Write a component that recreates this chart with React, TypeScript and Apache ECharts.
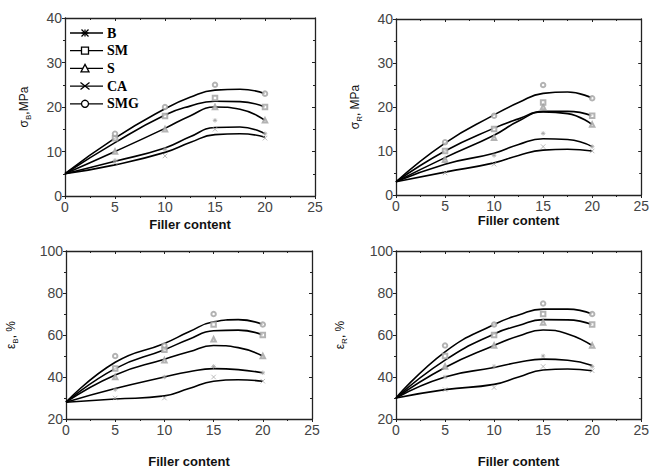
import React, { useEffect, useRef } from "react";
import * as echarts from "echarts";

// ---- data ----
const seriesNames = ["B", "SM", "S", "CA", "SMG"];
const pointX = [0, 5, 10, 15, 20];
const curveX = [0, 5, 10, 12.5, 15, 17.5, 20];

// panel 1: sigma_B (MPa)
const p1Points: Record<string, number[]> = {
  SMG: [5, 14, 20, 25, 23],
  SM: [5, 13, 18, 22, 20],
  S: [5, 10, 15, 20, 17],
  B: [5, 8, 10.5, 17, 14],
  CA: [5, 7.5, 9, 15, 13],
};
const p1Curves: Record<string, number[]> = {
  SMG: [5, 13, 19.6, 22.2, 23.8, 24, 23],
  SM: [5, 12, 18.2, 20.2, 21.3, 21.2, 20],
  S: [5, 10, 15.2, 18, 20, 19.5, 17],
  B: [5, 7.8, 10.8, 13.3, 15.4, 15.5, 14],
  CA: [5, 7, 9.8, 12, 13.8, 14, 13.2],
};
// panel 2: sigma_R (MPa)
const p2Points: Record<string, number[]> = {
  SMG: [3, 12, 18, 25, 22],
  SM: [3, 10, 15, 21, 18],
  S: [3, 8, 13, 20, 16],
  B: [3, 8, 9, 14, 11],
  CA: [3, 5, 7, 11, 10],
};
const p2Curves: Record<string, number[]> = {
  SMG: [3, 11.8, 18.2, 21, 23.1, 23.4, 22],
  SM: [3, 10, 15.2, 17.3, 19, 19, 18],
  S: [3, 8.5, 13.6, 16.8, 18.9, 18.5, 16],
  B: [3, 7, 9.5, 11.5, 12.8, 12.6, 11],
  CA: [3, 5.2, 7.3, 9, 10.2, 10.4, 10],
};
// panel 3: epsilon_B (%)
const p3Points: Record<string, number[]> = {
  SMG: [28, 50, 55, 70, 65],
  SM: [28, 44, 53, 65, 60],
  S: [28, 40, 48, 58, 50],
  B: [28, 34, 40, 45, 42],
  CA: [28, 30, 30, 40, 38],
};
const p3Curves: Record<string, number[]> = {
  SMG: [28, 47, 56, 61.5, 66.3, 67.3, 65],
  SM: [28, 44, 53, 58, 62, 62.3, 60],
  S: [28, 41, 48.5, 52, 55, 54, 50],
  B: [28, 34.5, 40, 42.5, 44, 43.5, 42],
  CA: [28, 29.5, 31, 34.5, 38, 38.7, 38],
};
// panel 4: epsilon_R (%)
const p4Points: Record<string, number[]> = {
  SMG: [30, 55, 65, 75, 70],
  SM: [30, 50, 60, 70, 65],
  S: [30, 45, 55, 66, 55],
  B: [30, 40, 45, 50, 45],
  CA: [30, 34, 35, 45, 43],
};
const p4Curves: Record<string, number[]> = {
  SMG: [30, 52, 65, 69.5, 72.3, 72.3, 70],
  SM: [30, 48, 60.5, 64.5, 67.3, 67.2, 65],
  S: [30, 44.5, 55, 59.5, 62.4, 60.5, 55],
  B: [30, 40, 44.5, 47, 48.5, 48, 45.5],
  CA: [30, 34, 36.5, 40, 43.3, 43.8, 43],
};

const xTitle = "Filler content";
const yTitles = [
  "{a|σ}{s|B}{a|,MPa}",
  "{a|σ}{s|R}{a|, MPa}",
  "{a|ε}{s|B}{a|, %}",
  "{a|ε}{s|R}{a|, %}",
];
const yRanges = [
  { min: 0, max: 40, interval: 10 },
  { min: 0, max: 40, interval: 10 },
  { min: 20, max: 100, interval: 20 },
  { min: 20, max: 100, interval: 20 },
];
const xRange = { min: 0, max: 25, interval: 5 };

const panelPoints = [p1Points, p2Points, p3Points, p4Points];
const panelCurves = [p1Curves, p2Curves, p3Curves, p4Curves];

// ---- layout ----
const grids = [
  { left: 65, top: 18, width: 250, height: 178 },
  { left: 396, top: 19, width: 246, height: 176 },
  { left: 66, top: 251, width: 246, height: 175 },
  { left: 396, top: 251, width: 246, height: 176 },
];
const xNameGaps = [22, 18, 36, 36];
const yNameGaps = [33, 33, 47, 48];

const ASTERISK = "path://M5,0L5,10M0,5L10,5M1.5,1.5L8.5,8.5M8.5,1.5L1.5,8.5";
const CROSS = "path://M0,0L10,10M10,0L0,10";
const symbols: Record<string, string> = {
  B: ASTERISK,
  SM: "emptyRect",
  S: "emptyTriangle",
  CA: CROSS,
  SMG: "emptyCircle",
};

const AXIS_COLOR = "#222";
const MARK_COLOR = "#a0a0a0";
const LABEL_FONT = "Liberation Sans, Arial, sans-serif";

function buildOption() {
  const xAxis: any[] = [];
  const yAxis: any[] = [];
  const series: any[] = [];
  grids.forEach((g, i) => {
    const base = {
      gridIndex: i,
      type: "value",
      axisLine: { show: true, onZero: false, lineStyle: { color: AXIS_COLOR, width: 1.3 } },
      splitLine: { show: false },
      minorSplitLine: { show: false },
    };
    const outerTicks = {
      axisTick: { show: true, inside: false, length: 3, lineStyle: { color: AXIS_COLOR } },
      minorTick: { show: true, splitNumber: 2, length: 2, lineStyle: { color: AXIS_COLOR } },
    };
    const innerTicks = {
      axisTick: { show: true, inside: true, length: 3, lineStyle: { color: AXIS_COLOR } },
      minorTick: { show: true, splitNumber: 2, length: 2, lineStyle: { color: AXIS_COLOR } },
    };
    xAxis.push({
      ...base,
      ...outerTicks,
      ...xRange,
      position: "bottom",
      axisLabel: { fontSize: 14, color: "#444", margin: 4, fontFamily: LABEL_FONT },
      name: xTitle,
      nameLocation: "middle",
      nameGap: xNameGaps[i],
      nameTextStyle: { fontSize: 13, fontWeight: "bold", color: "#111", fontFamily: LABEL_FONT },
    });
    xAxis.push({ ...base, ...innerTicks, ...xRange, position: "top", axisLabel: { show: false } });
    yAxis.push({
      ...base,
      ...outerTicks,
      ...yRanges[i],
      position: "left",
      axisLabel: { fontSize: 14, color: "#444", margin: 3, fontFamily: LABEL_FONT },
      name: yTitles[i],
      nameLocation: "middle",
      nameGap: yNameGaps[i],
      nameRotate: 90,
      nameTextStyle: {
        color: "#111",
        fontFamily: LABEL_FONT,
        rich: {
          a: { fontSize: 12, color: "#111", fontFamily: LABEL_FONT, lineHeight: 16, verticalAlign: "middle" },
          s: { fontSize: 8, color: "#111", fontFamily: LABEL_FONT, lineHeight: 8, verticalAlign: "bottom" },
        },
      },
    });
    yAxis.push({ ...base, ...innerTicks, ...yRanges[i], position: "right", axisLabel: { show: false } });

    seriesNames.forEach((name) => {
      const pts = panelPoints[i][name];
      const cur = panelCurves[i][name];
      series.push({
        type: "line",
        name,
        xAxisIndex: 2 * i,
        yAxisIndex: 2 * i,
        data: curveX.map((x, k) => [x, cur[k]]),
        smooth: 0.5,
        showSymbol: false,
        symbol: "none",
        lineStyle: { color: "#000", width: 1.6 },
        z: 2,
        silent: true,
      });
      const isPath = symbols[name].startsWith("path://");
      series.push({
        type: "scatter",
        name: name + "_pts",
        xAxisIndex: 2 * i,
        yAxisIndex: 2 * i,
        data: pointX.slice(1).map((x, k) => [x, pts[k + 1]]),
        symbol: symbols[name],
        symbolSize: 4.5,
        itemStyle: isPath
          ? { color: "rgba(0,0,0,0)", borderColor: MARK_COLOR, borderWidth: 0.9 }
          : { color: MARK_COLOR, borderColor: MARK_COLOR, borderWidth: 0.9 },
        z: 3,
        silent: true,
      });
    });
  });

  // legend drawn with graphic elements
  const legendTop = 33;
  const step = 17.7;
  const lx0 = 70;
  const lx1 = 103;
  const mx = 85;
  const ms = 3.5;
  const graphic: any[] = [];
  const stroke = { stroke: "#000", lineWidth: 1.3 };
  seriesNames.forEach((name, k) => {
    const y = legendTop + k * step;
    graphic.push({ type: "line", shape: { x1: lx0, y1: y, x2: lx1, y2: y }, style: { ...stroke } });
    if (name === "B") {
      graphic.push({ type: "line", shape: { x1: mx - ms, y1: y, x2: mx + ms, y2: y }, style: stroke });
      graphic.push({ type: "line", shape: { x1: mx, y1: y - ms, x2: mx, y2: y + ms }, style: stroke });
      graphic.push({ type: "line", shape: { x1: mx - ms, y1: y - ms, x2: mx + ms, y2: y + ms }, style: stroke });
      graphic.push({ type: "line", shape: { x1: mx + ms, y1: y - ms, x2: mx - ms, y2: y + ms }, style: stroke });
    } else if (name === "SM") {
      graphic.push({ type: "rect", shape: { x: mx - ms, y: y - ms, width: 2 * ms, height: 2 * ms }, style: { fill: "#fff", ...stroke } });
    } else if (name === "S") {
      graphic.push({
        type: "polygon",
        shape: { points: [[mx, y - ms - 0.5], [mx + ms + 0.5, y + ms], [mx - ms - 0.5, y + ms]] },
        style: { fill: "#fff", ...stroke },
      });
    } else if (name === "CA") {
      graphic.push({ type: "line", shape: { x1: mx - ms - 1, y1: y - ms, x2: mx + ms + 1, y2: y + ms }, style: stroke });
      graphic.push({ type: "line", shape: { x1: mx + ms + 1, y1: y - ms, x2: mx - ms - 1, y2: y + ms }, style: stroke });
    } else {
      graphic.push({ type: "circle", shape: { cx: mx, cy: y, r: ms }, style: { fill: "#fff", ...stroke } });
    }
    graphic.push({
      type: "text",
      x: 107,
      y,
      style: {
        text: name,
        fill: "#000",
        font: "bold 14px 'Liberation Serif', 'Times New Roman', serif",
        textVerticalAlign: "middle",
        verticalAlign: "middle",
      },
    });
  });

  return {
    animation: false,
    backgroundColor: "#fff",
    grid: grids.map((g) => ({ ...g, containLabel: false })),
    xAxis,
    yAxis,
    series,
    graphic,
  };
}

export default function App() {
  const ref = useRef<HTMLDivElement>(null);
  useEffect(() => {
    document.body.style.margin = "0";
    if (!ref.current) return;
    const chart = echarts.init(ref.current, undefined, { renderer: "svg" });
    chart.setOption(buildOption() as any);
    return () => chart.dispose();
  }, []);
  return <div ref={ref} style={{ width: 652, height: 469 }} />;
}
